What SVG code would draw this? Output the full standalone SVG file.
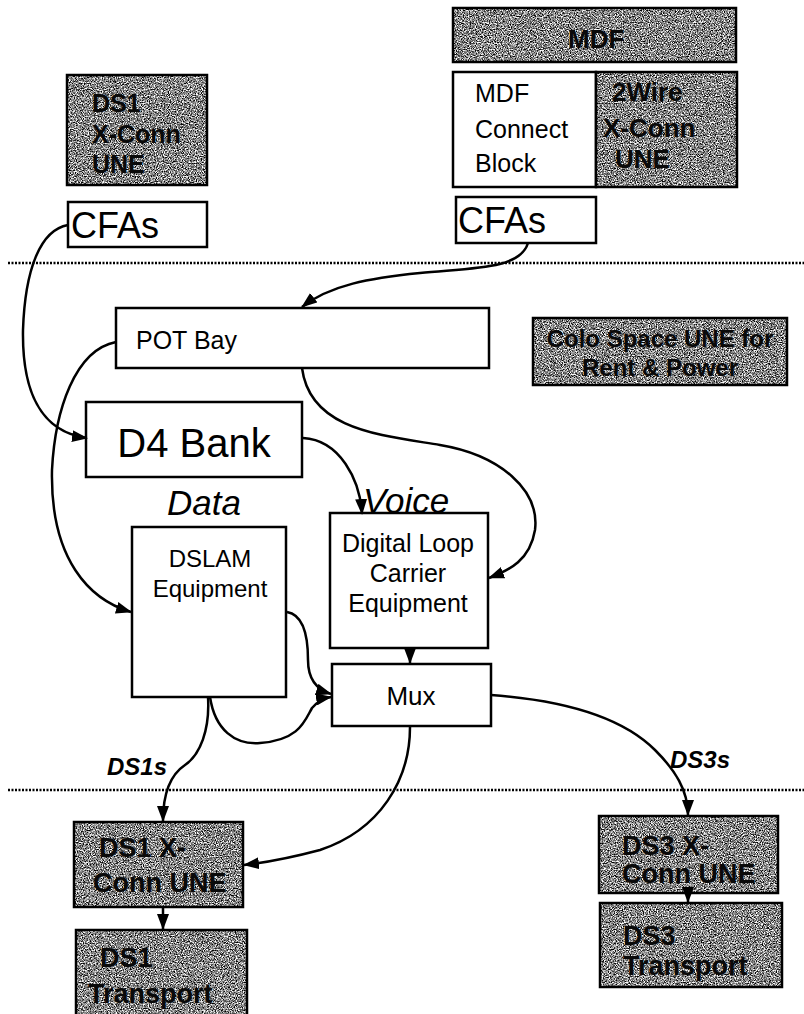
<svg xmlns="http://www.w3.org/2000/svg" width="804" height="1014" viewBox="0 0 804 1014">
  <defs>
    <marker id="arrow" viewBox="0 0 16 12" refX="15" refY="6" markerWidth="16" markerHeight="12" markerUnits="userSpaceOnUse" orient="auto">
      <path d="M0,0 L16,6 L0,12 z" fill="#000"/>
    </marker>
    <!-- speckled gray texture for the UNE boxes -->
    <filter id="grain" x="0" y="0" width="100%" height="100%" color-interpolation-filters="sRGB">
      <feTurbulence type="fractalNoise" baseFrequency="0.85" numOctaves="2" seed="7" result="n"/>
      <feColorMatrix in="n" type="matrix" values="2.4 0 0 0 -0.68  2.4 0 0 0 -0.68  2.4 0 0 0 -0.68  0 0 0 0 1" result="g"/>
      <feComposite in="g" in2="SourceGraphic" operator="in"/>
    </filter>
  </defs>
  <style>
    .box { fill: #fff; stroke: #000; stroke-width: 2.5; }
    .edge { fill: none; stroke: #000; stroke-width: 2.5; }
    .tex { fill: #000; filter: url(#grain); }
    .t { font-family: "Liberation Sans", Arial, sans-serif; fill: #000; }
    .g { font-family: "Liberation Sans", Arial, sans-serif; font-weight: bold; fill: #0a0a0a; }
    .lbl { font-family: "Liberation Sans", Arial, sans-serif; font-style: italic; fill: #000; }
    .wire { fill: none; stroke: #000; stroke-width: 2.5; marker-end: url(#arrow); }
    .dots { stroke: #000; stroke-width: 2.5; stroke-dasharray: 2 1.5; }
  </style>
  <rect width="804" height="1014" fill="#fff"/>

  <!-- boundary lines -->
  <g id="boundaries">
    <line class="dots" x1="8" y1="263" x2="804" y2="263"/>
    <line class="dots" x1="8" y1="790" x2="804" y2="790"/>
  </g>

  <g id="ds1-xconn-top">
    <rect class="tex" x="67" y="75" width="140" height="110"/>
    <rect class="edge" x="67" y="75" width="140" height="110"/>
    <text class="g" x="92" y="112" font-size="25">DS1</text>
    <text class="g" x="92" y="143" font-size="25">X-Conn</text>
    <text class="g" x="92" y="173" font-size="25">UNE</text>
  </g>

  <g id="cfas-left">
    <rect class="box" x="68" y="202" width="139" height="45"/>
    <text class="t" x="71" y="238" font-size="36">CFAs</text>
  </g>

  <g id="mdf">
    <rect class="tex" x="453" y="8" width="283" height="54"/>
    <rect class="edge" x="453" y="8" width="283" height="54"/>
    <text class="g" x="568" y="48" font-size="26">MDF</text>
  </g>

  <g id="mdf-connect-block">
    <rect class="box" x="453" y="72" width="143" height="115"/>
    <text class="t" x="475" y="102" font-size="25">MDF</text>
    <text class="t" x="475" y="138" font-size="25">Connect</text>
    <text class="t" x="475" y="172" font-size="25">Block</text>
  </g>

  <g id="two-wire-xconn">
    <rect class="tex" x="596" y="72" width="141" height="115"/>
    <rect class="edge" x="596" y="72" width="141" height="115"/>
    <text class="g" x="612" y="101" font-size="26">2Wire</text>
    <text class="g" x="603" y="137" font-size="26">X-Conn</text>
    <text class="g" x="615" y="168" font-size="26">UNE</text>
  </g>

  <g id="cfas-right">
    <rect class="box" x="456" y="197" width="140" height="46"/>
    <text class="t" x="458" y="233" font-size="36">CFAs</text>
  </g>

  <g id="pot-bay">
    <rect class="box" x="116" y="308" width="373" height="60"/>
    <text class="t" x="136" y="349" font-size="25">POT Bay</text>
  </g>

  <g id="colo-space">
    <rect class="tex" x="533" y="318" width="254" height="67"/>
    <rect class="edge" x="533" y="318" width="254" height="67"/>
    <text class="g" x="660" y="347" font-size="24" text-anchor="middle">Colo Space UNE for</text>
    <text class="g" x="660" y="376" font-size="24" text-anchor="middle">Rent &amp; Power</text>
  </g>

  <g id="d4-bank">
    <rect class="box" x="86" y="402" width="216" height="75"/>
    <text class="t" x="194" y="457" font-size="40" text-anchor="middle">D4 Bank</text>
  </g>

  <g id="dslam">
    <text class="lbl" x="167" y="515" font-size="35">Data</text>
    <rect class="box" x="132" y="527" width="154" height="170"/>
    <text class="t" x="210" y="567" font-size="24" text-anchor="middle">DSLAM</text>
    <text class="t" x="210" y="597" font-size="24" text-anchor="middle">Equipment</text>
  </g>

  <g id="dlc">
    <rect class="box" x="330" y="513" width="158" height="135"/>
    <text class="lbl" x="363" y="513" font-size="35">Voice</text>
    <text class="t" x="408" y="552" font-size="25" text-anchor="middle">Digital Loop</text>
    <text class="t" x="408" y="582" font-size="25" text-anchor="middle">Carrier</text>
    <text class="t" x="408" y="612" font-size="25" text-anchor="middle">Equipment</text>
  </g>

  <g id="mux">
    <rect class="box" x="332" y="664" width="159" height="62"/>
    <text class="t" x="411" y="705" font-size="26" text-anchor="middle">Mux</text>
  </g>

  <g id="ds1-xconn">
    <rect class="tex" x="74" y="822" width="169" height="85"/>
    <rect class="edge" x="74" y="822" width="169" height="85"/>
    <text class="g" x="99" y="857" font-size="27">DS1 X-</text>
    <text class="g" x="93" y="892" font-size="27">Conn UNE</text>
  </g>

  <g id="ds1-transport">
    <rect class="tex" x="76" y="930" width="171" height="90"/>
    <rect class="edge" x="76" y="930" width="171" height="90"/>
    <text class="g" x="100" y="967" font-size="27">DS1</text>
    <text class="g" x="88" y="1003" font-size="27">Transport</text>
  </g>

  <g id="ds3-xconn">
    <rect class="tex" x="599" y="816" width="179" height="77"/>
    <rect class="edge" x="599" y="816" width="179" height="77"/>
    <text class="g" x="622" y="855" font-size="27">DS3 X-</text>
    <text class="g" x="622" y="883" font-size="27">Conn UNE</text>
  </g>

  <g id="ds3-transport">
    <rect class="tex" x="600" y="903" width="182" height="84"/>
    <rect class="edge" x="600" y="903" width="182" height="84"/>
    <text class="g" x="623" y="945" font-size="27">DS3</text>
    <text class="g" x="623" y="975" font-size="27">Transport</text>
  </g>

  <g id="labels">
    <text class="lbl" x="107" y="775" font-size="24" font-weight="bold">DS1s</text>
    <text class="lbl" x="670" y="768" font-size="24" font-weight="bold">DS3s</text>
  </g>

  <g id="connectors">
    <path class="wire" d="M68,225 C40,230 25,270 23,330 C22,390 40,432 87,438"/>
    <path class="wire" d="M528,243 C520,270 470,268 420,273 C370,278 330,285 302,307"/>
    <path class="wire" d="M116,342 C75,350 55,410 52,470 C50,560 90,600 131,612"/>
    <path class="wire" d="M303,438 C340,440 360,480 362,514"/>
    <path class="wire" d="M302,368 C310,430 380,435 440,445 C500,455 540,490 535,530 C530,560 510,570 489,578"/>
    <path class="wire" d="M410,648 L410,663"/>
    <path class="wire" d="M287,612 C305,615 308,640 308,660 C308,680 318,690 331,694"/>
    <path class="wire" d="M210,697 C215,730 235,745 260,743 C300,740 305,720 312,708 C318,701 325,698 331,697"/>
    <path class="wire" d="M208,697 C210,730 200,755 185,765 C170,775 163,795 163,821"/>
    <path class="wire" d="M410,727 C410,780 380,830 320,850 C290,858 270,862 244,865"/>
    <path class="wire" d="M491,695 C560,700 620,715 655,750 C675,770 688,790 688,815"/>
    <path class="wire" d="M163,907 L163,929"/>
    <path class="wire" d="M688,893 L688,902"/>
  </g>
</svg>
